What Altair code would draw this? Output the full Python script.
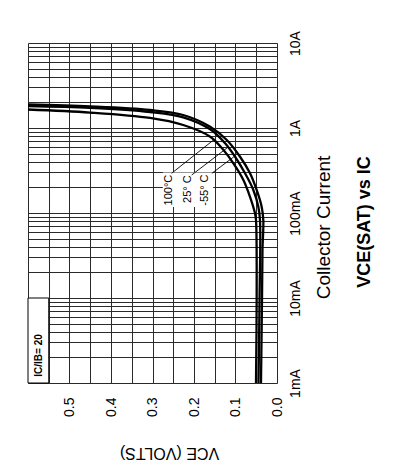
import altair as alt
import pandas as pd

FONT = "Liberation Sans"

# ---------------- axis values ----------------
volt_grid = [round(0.05 * i, 2) for i in range(13)]          # 0.00 .. 0.60
decades = [0.001, 0.01, 0.1, 1, 10]
decade_labels = ["1mA", "10mA", "100mA", "1A", "10A"]
current_grid = [round(k * d, 6) for d in decades[:-1] for k in range(1, 10)] + [10]

# ---------------- curves (IC in A, VCE in V) ----------------
temps = ["-55° C", "25° C", "100°C"]

ic_m55 = [0.001, 0.01, 0.0367, 0.0827, 0.1186, 0.1865, 0.293, 0.459, 0.722, 1.035, 1.422, 1.629, 1.795, 1.89]
vce_m55 = [0.0386, 0.0361, 0.035, 0.033, 0.037, 0.049, 0.065, 0.089, 0.121, 0.161, 0.226, 0.306, 0.45, 0.600]

ic_25 = [0.001, 0.01, 0.0827, 0.1186, 0.1865, 0.293, 0.459, 0.661, 0.965, 1.336, 1.543, 1.73, 1.815]
vce_25 = [0.0446, 0.042, 0.041, 0.045, 0.057, 0.077, 0.101, 0.125, 0.161, 0.226, 0.306, 0.45, 0.600]

ic_100 = [0.001, 0.01, 0.0827, 0.099, 0.155, 0.245, 0.384, 0.551, 0.79, 1.084, 1.312, 1.52, 1.65]
vce_100 = [0.0506, 0.049, 0.0506, 0.053, 0.065, 0.081, 0.105, 0.129, 0.161, 0.226, 0.306, 0.45, 0.600]

# ---------------- annotations ----------------
label_v = [0.1735, 0.2145, 0.261]        # -55, 25, 100
label_i = [0.186, 0.191, 0.186]
leader_v1 = [0.157, 0.2055, 0.254]
leader_i1 = [0.293, 0.280, 0.293]
leader_v2 = [0.099, 0.117, 0.153]
leader_i2 = [0.478, 0.600, 0.722]

label_box_v = [0.154, 0.275]
label_box_i = [0.118, 0.30]

inset_text = "IC/IB= 20"
inset_v = [0.55, 0.60]
inset_i = [0.001, 0.01]
inset_text_v = 0.5735
inset_text_i = 0.00211

# ---------------- data frames ----------------
rows = []
for name, ics, vs in [(temps[0], ic_m55, vce_m55), (temps[1], ic_25, vce_25), (temps[2], ic_100, vce_100)]:
    for k, (i, v) in enumerate(zip(ics, vs)):
        rows.append({"curve": name, "ic": i, "vce": v, "order": k})
curves = pd.DataFrame(rows)

leaders = pd.DataFrame({"v1": leader_v1, "i1": leader_i1, "v2": leader_v2, "i2": leader_i2})
labels = pd.DataFrame({"t": temps, "v": label_v, "i": label_i})
label_box = pd.DataFrame({"v1": [label_box_v[0]], "v2": [label_box_v[1]], "i1": [label_box_i[0]], "i2": [label_box_i[1]]})
inset_box = pd.DataFrame({"v1": [inset_v[0]], "v2": [inset_v[1]], "i1": [inset_i[0]], "i2": [inset_i[1]]})
inset_lbl = pd.DataFrame({"t": [inset_text], "v": [inset_text_v], "i": [inset_text_i]})

x_scale = alt.Scale(domain=[0, 0.6], reverse=True, nice=False, zero=False)
y_scale = alt.Scale(type="log", domain=[0.001, 10], nice=False)

lab_arr = "[" + ",".join("'%s'" % s for s in decade_labels) + "]"
y_label_expr = ("abs(log(datum.value)/LN10 - round(log(datum.value)/LN10)) < 0.01 ? "
                + lab_arr + "[round(log(datum.value)/LN10)+3] : ''")
x_label_expr = "(round(datum.value*20) % 2 == 0 && datum.value < 0.55) ? format(datum.value, '.1f') : ''"

x_axis = alt.Axis(
    orient="bottom", values=volt_grid, labelExpr=x_label_expr,
    labelAngle=270, labelAlign="right", labelBaseline="middle", labelPadding=14,
    labelFontSize=14, labelFont=FONT, labelColor="black", labelOverlap=False, labelFlush=False,
    ticks=False, domain=False, grid=True, gridColor="#2a2a2a", gridWidth=1, gridOpacity=1,
    title="VCE (VOLTS)", titleAngle=180, titleFontSize=16, titleFontWeight="normal", titleFont=FONT,
    titleColor="black", titleX=141, titleY=69, titleAlign="center", titleBaseline="middle",
)
y_axis = alt.Axis(
    orient="right", values=current_grid, labelExpr=y_label_expr,
    labelAngle=270, labelAlign="center", labelBaseline="top", labelPadding=11,
    labelFontSize=14, labelFont=FONT, labelColor="black", labelOverlap=False, labelFlush=False,
    ticks=False, domain=False, grid=True, gridColor="#2a2a2a", gridWidth=1, gridOpacity=1,
    title="Collector Current", titleAngle=270, titleFontSize=19, titleFontWeight="normal", titleFont=FONT,
    titleColor="black", titleX=46, titleY=184, titleAlign="center", titleBaseline="middle",
)


def X(field):
    return alt.X(field, type="quantitative", scale=x_scale, axis=x_axis)


def Y(field):
    return alt.Y(field, type="quantitative", scale=y_scale, axis=y_axis)


lines = alt.Chart(curves).mark_line(color="black", strokeWidth=2.3, interpolate="catmull-rom").encode(
    x=X("vce"), y=Y("ic"), detail="curve:N", order="order:Q",
)

lbox = alt.Chart(label_box).mark_rect(fill="white").encode(
    x=X("v1"), x2="v2", y=Y("i1"), y2="i2",
)

lead = alt.Chart(leaders).mark_rule(color="black", strokeWidth=0.9).encode(
    x=X("v1"), x2="v2", y=Y("i1"), y2="i2",
)

ltext = alt.Chart(labels).mark_text(angle=270, align="center", baseline="middle",
                                    fontSize=11, font=FONT, color="black").encode(
    x=X("v"), y=Y("i"), text="t:N",
)

ibox = alt.Chart(inset_box).mark_rect(fill="white", stroke="black", strokeWidth=1).encode(
    x=X("v1"), x2="v2", y=Y("i1"), y2="i2",
)

itext = alt.Chart(inset_lbl).mark_text(angle=270, align="center", baseline="middle",
                                       fontSize=10, font=FONT, fontWeight="bold", color="black").encode(
    x=X("v"), y=Y("i"), text="t:N",
)

chart = alt.layer(lbox, ibox, lines, lead, ltext, itext).properties(
    width=249, height=340,
    autosize=alt.AutoSizeParams(type="none"),
    padding={"left": 20, "top": 35, "right": 118, "bottom": 80},
    title=alt.TitleParams(
        text="VCE(SAT) vs IC", orient="right", angle=270, anchor="middle",
        fontSize=18, fontWeight="bold", font=FONT, color="black",
        baseline="middle", offset=14, dx=-9,
    ),
).configure_view(stroke="black", strokeWidth=1).configure(background="white")

chart.save("out.html", embed_options={"renderer": "svg", "actions": False})
